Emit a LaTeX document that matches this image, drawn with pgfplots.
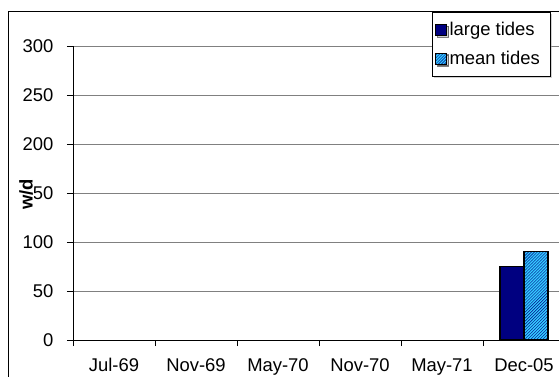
\documentclass[border=0pt]{standalone}
\usepackage{pgfplots}
\pgfplotsset{compat=1.18}
\usepackage{fontspec}
\setmainfont{Liberation Sans}
\usetikzlibrary{patterns,shadows}
\definecolor{largetide}{RGB}{0,0,128}
\definecolor{meanfill}{RGB}{51,204,255}
\definecolor{gridgray}{RGB}{128,128,128}
\newcommand{\chartfont}{\fontsize{18.5}{21}\selectfont}
\begin{document}
\begin{tikzpicture}
\useasboundingbox (0,0) rectangle (559bp,377bp);
\clip (0,0) rectangle (559bp,377bp);
% chart area frame (cut off on the right and at the bottom)
\draw[black, line width=0.9bp] (8bp,-20bp) -- (8bp,366bp) -- (620bp,366bp);
\begin{axis}[
  at={(73bp,37bp)}, anchor=south west,
  scale only axis, width=492bp, height=294bp,
  xmin=-0.5, xmax=5.5, ymin=0, ymax=300,
  axis x line*=bottom, axis y line*=left,
  axis line style={black, line width=0.9bp},
  ytick={0,50,...,300},
  ymajorgrids, grid style={gridgray, line width=0.7bp},
  xtick={0,...,5},
  xticklabels={Jul-69,Nov-69,May-70,Nov-70,May-71,Dec-05},
  minor xtick={-0.5,0.5,...,5.5},
  major x tick style={draw=none},
  tick align=outside,
  major tick length=6bp, minor tick length=6bp,
  tick style={black, line width=0.9bp},
  ticklabel style={font=\chartfont},
  /pgf/number format/assume math mode=true,
  yticklabel style={xshift=-10bp},
  xticklabel style={yshift=-9bp},
  ylabel={w/d},
  ylabel style={font=\chartfont\bfseries, fill=white, inner sep=1bp,
    at={(axis description cs:-0.0955,0.495)}, anchor=center},
  ybar=0pt, bar width=24bp,
  legend style={at={(rel axis cs:0.7297,1.1156)}, anchor=north west,
    draw=black, line width=0.6bp, fill=white, font=\chartfont,
    drop shadow={shadow xshift=2bp, shadow yshift=-2bp, fill=gray!70},
    inner xsep=3bp, inner ysep=8bp, row sep=10bp,
    nodes={inner ysep=2bp, inner xsep=2.5bp}},
  legend cell align=left,
  legend image code/.code={\draw[#1, line width=0.8bp] (0bp,-5.5bp) rectangle (11bp,5.5bp);},
]
\addplot[draw=black, line width=1.4bp, fill=largetide] coordinates {(5,75)};
\addplot[draw=black, line width=1.4bp, fill=meanfill,
  postaction={pattern=north east lines, pattern color=largetide}] coordinates {(5,90)};
\legend{large tides, mean tides\rule{5bp}{0pt}}
\end{axis}
\end{tikzpicture}
\end{document}
